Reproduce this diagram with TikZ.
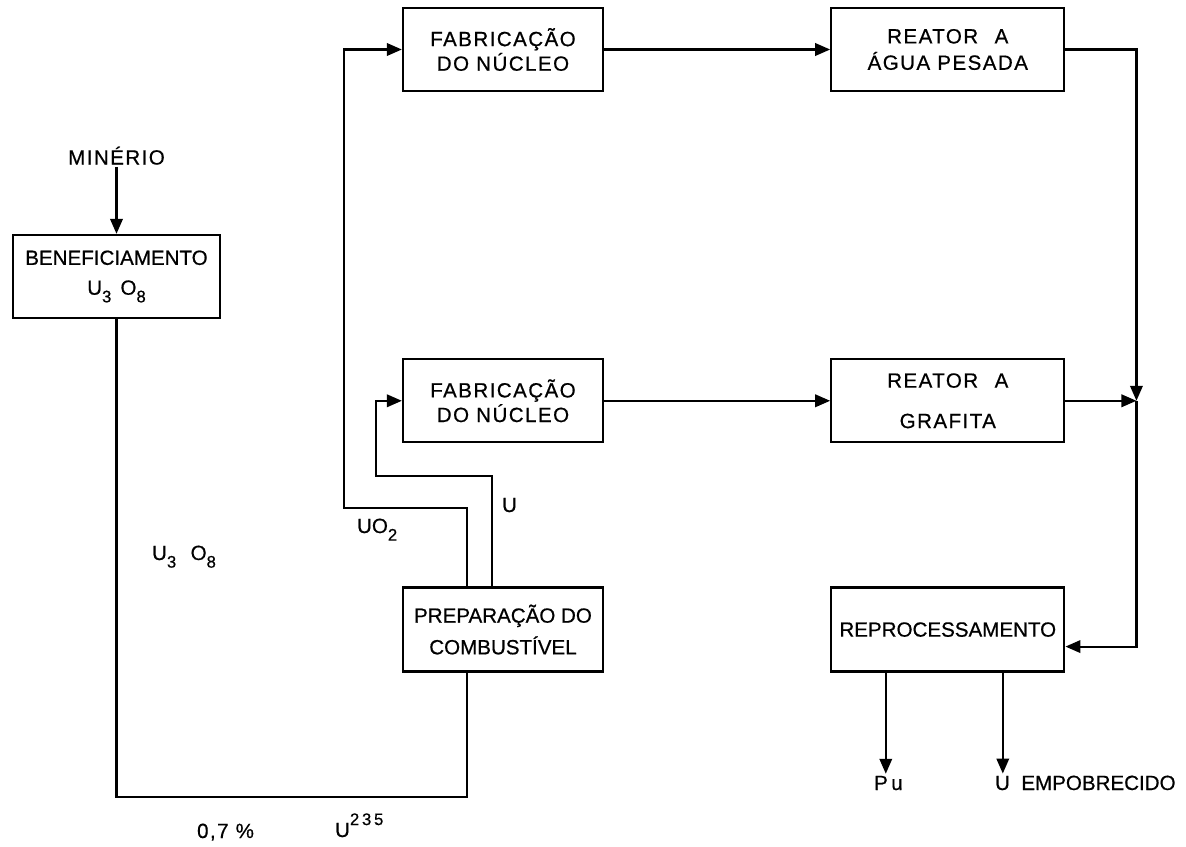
\documentclass[tikz,border=0pt]{standalone}
\usepackage{fontspec}
\setmainfont[FakeBold=0.6]{Liberation Sans}
\newfontfamily\spacedfont[LetterSpace=7,FakeBold=0.6]{Liberation Sans}
\usetikzlibrary{arrows.meta,positioning,calc}
\newcommand{\nucsub}[1]{\raisebox{-0.7ex}{\fontsize{9.5}{9.5}\selectfont #1}}
\newcommand{\nucsup}[1]{\raisebox{1.1ex}{\fontsize{9.5}{9.5}\spacedfont #1}}
\tikzset{
	box/.style={draw, line width=1.3pt, align=center, inner sep=2pt,
		minimum width=40mm, minimum height=16.6mm,
		font=\fontsize{11.7}{14}\selectfont},
	widebox/.style={box, minimum width=46.6mm},
	spaced/.style={font=\fontsize{11.7}{14}\spacedfont},
	arrow/.style={-{Triangle[length=3mm,width=2.5mm]}, line width=1.2pt},
	line/.style={line width=1.2pt},
	lbl/.style={inner sep=1pt, font=\fontsize{11.7}{14}\selectfont}
}

\begin{document}
\begin{tikzpicture}[x=0.2mm, y=-0.2mm]
	
	\useasboundingbox (0,0) rectangle (1186,847);
	
	%% -- left column: ore and milling
	\node[box, minimum width=41.4mm] (benef) at (116.5,276.5)
	{BENEFICIAMENTO\\[3pt]U\nucsub{3}\, O\nucsub{8}};
	
	\node[lbl, spaced, above=13.4mm of benef] (minerio) {MINÉRIO};
	
	%% -- core fabrication boxes
	\node[box, spaced] (fab1) at (503,49.5)
	{FABRICAÇÃO\\DO NÚCLEO};
	
	\node[box, spaced, below=53.2mm of fab1] (fab2)
	{FABRICAÇÃO\\DO NÚCLEO};
	
	\node[box, minimum height=16.8mm, below=28.6mm of fab2] (prep)
	{PREPARAÇÃO DO\\[4pt]COMBUSTÍVEL};
	
	%% -- reactors and reprocessing
	\node[widebox, spaced, right=45.2mm of fab1] (reac1)
	{REATOR\hspace{0.8em}A\\[1pt]ÁGUA PESADA};
	
	\node[widebox, spaced, right=45.2mm of fab2] (reac2)
	{REATOR\hspace{0.8em}A\\[9pt]GRAFITA};
	
	\node[widebox, minimum height=16.8mm, right=45.2mm of prep] (reproc)
	{REPROCESSAMENTO};
	
	\coordinate (join) at ([xshift=14.2mm]reac2.east);
	
	%% -- free labels
	\node[lbl, anchor=base west] (u3o8) at (150,560) {U\nucsub{3}\hspace{0.7em}O\nucsub{8}};
	\node[lbl, anchor=base west] (uo2) at (355,533) {UO\nucsub{2}};
	\node[lbl, anchor=base west] (ulbl) at (500,512) {U};
	\node[lbl, spaced, anchor=base west] (pct) at (195,838) {0,7\ \%};
	\node[lbl, anchor=base west] (u235) at (333,837) {U\nucsup{2\,3\,5}};
	\node[lbl, spaced, anchor=base west] (pu) at (872,790) {P\,u};
	\node[lbl, anchor=base west] (uemp) at (993,790) {U\ \ EMPOBRECIDO};
	
	%% -- ore into milling
	\draw[arrow] (minerio) -- (benef);
	
	%% -- U3O8 run along the bottom
	\draw[line] (benef.south) |- ([xshift=-7.2mm,yshift=-24.8mm]prep.south)
	-- ([xshift=-7.2mm]prep.south);
	
	%% -- UO2 and U feeds
	\draw[arrow] ([xshift=-7.2mm]prep.north) -- ++(0,-78) -- ++(-123,0) |- (fab1.west);
	\draw[arrow] ([xshift=-2.2mm]prep.north) -- ++(0,-110) -- ++(-116,0) |- (fab2.west);
	
	%% -- cores into reactors
	\draw[arrow] (fab1) -- (reac1);
	\draw[arrow] (fab2) -- (reac2);
	
	%% -- spent fuel to reprocessing
	\draw[arrow] (reac1.east) -| (join);
	\draw[arrow] (reac2.east) -- (join);
	\draw[arrow] (join) |- ([yshift=-3.4mm]reproc.east);
	
	%% -- products
	\draw[arrow] ([xshift=-12.4mm]reproc.south) -- ([xshift=-12.4mm]reproc.south |- pu.north);
	\draw[arrow] ([xshift=11mm]reproc.south) -- ([xshift=11mm]reproc.south |- uemp.north);
	
\end{tikzpicture}
\end{document}
